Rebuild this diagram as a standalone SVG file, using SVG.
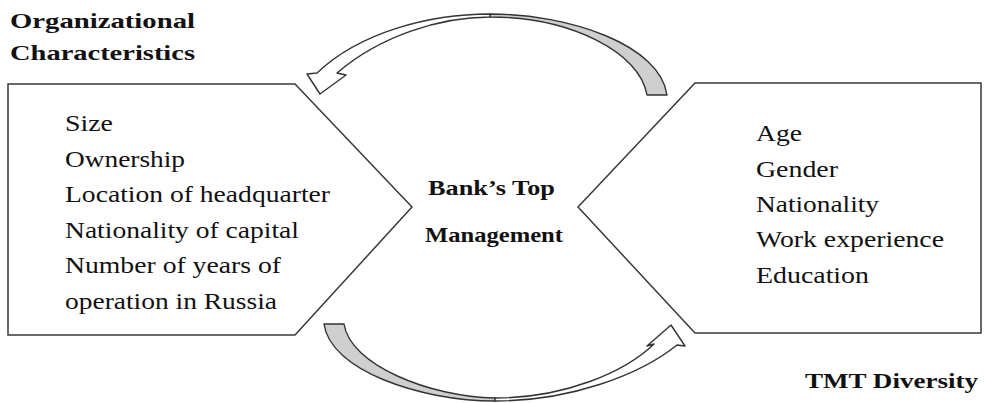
<svg xmlns="http://www.w3.org/2000/svg" width="984" height="403" viewBox="0 0 984 403">
<style>
.shape{fill:#fff;stroke:#3a3a3a;stroke-width:1.5;stroke-linejoin:miter}
.band{stroke:#333;stroke-width:1.4;stroke-linejoin:round}
.white{fill:#fff}
.gray{fill:#cfcfcf}
.body{font-family:"Liberation Serif","Times New Roman",serif;font-size:24px;fill:#111}
.bold{font-family:"Liberation Serif","Times New Roman",serif;font-size:22px;font-weight:bold;fill:#111}
</style>
<rect width="984" height="403" fill="#fff"/>
<g id="title-org">
<text class="bold" x="10" y="28" textLength="185" lengthAdjust="spacingAndGlyphs">Organizational</text>
<text class="bold" x="10" y="60" textLength="185" lengthAdjust="spacingAndGlyphs">Characteristics</text>
</g>
<g id="node-org">
<path class="shape" d="M8,84 L295,84 L412,207 L295,335 L8,335 Z"/>
<text class="body" x="65" y="131" textLength="48" lengthAdjust="spacingAndGlyphs">Size</text>
<text class="body" x="65" y="167" textLength="120" lengthAdjust="spacingAndGlyphs">Ownership</text>
<text class="body" x="65" y="202" textLength="265" lengthAdjust="spacingAndGlyphs">Location of headquarter</text>
<text class="body" x="65" y="238" textLength="234" lengthAdjust="spacingAndGlyphs">Nationality of capital</text>
<text class="body" x="65" y="273" textLength="216" lengthAdjust="spacingAndGlyphs">Number of years of</text>
<text class="body" x="65" y="309" textLength="212" lengthAdjust="spacingAndGlyphs">operation in Russia</text>
</g>
<g id="node-tmt">
<path class="shape" d="M695,83 L981,83 L981,333 L695,333 L578,207 Z"/>
<text class="body" x="756" y="141" textLength="46" lengthAdjust="spacingAndGlyphs">Age</text>
<text class="body" x="756" y="177" textLength="82" lengthAdjust="spacingAndGlyphs">Gender</text>
<text class="body" x="756" y="212" textLength="123" lengthAdjust="spacingAndGlyphs">Nationality</text>
<text class="body" x="756" y="247" textLength="188" lengthAdjust="spacingAndGlyphs">Work experience</text>
<text class="body" x="756" y="283" textLength="113" lengthAdjust="spacingAndGlyphs">Education</text>
</g>
<g id="node-center">
<text class="bold" x="428" y="195" textLength="127" lengthAdjust="spacingAndGlyphs">Bank’s Top</text>
<text class="bold" x="425" y="242" textLength="138" lengthAdjust="spacingAndGlyphs">Management</text>
</g>
<g id="title-tmt">
<text class="bold" x="805" y="388" textLength="173" lengthAdjust="spacingAndGlyphs">TMT Diversity</text>
</g>
<g id="connectors">
<path class="band gray" d="M490,14 C570,14 660,45 667,95 L647,95 C640,52 570,17 490,17 Z"/>
<path class="band white" d="M490,14 C430,14 360,32 317,73 L307,74 L320,94 L346,75 L337,73 C380,36 440,17 490,17 Z"/>
<path class="band gray" d="M324,324 C330,370 420,401 495,401 L495,398 C430,397 350,365 344,324 Z"/>
<path class="band white" d="M495,401 C570,401 640,375 677,345 L685,346 L671,325 L647,346 L654,344 C625,372 565,398 495,398 Z"/>
</g>
</svg>
